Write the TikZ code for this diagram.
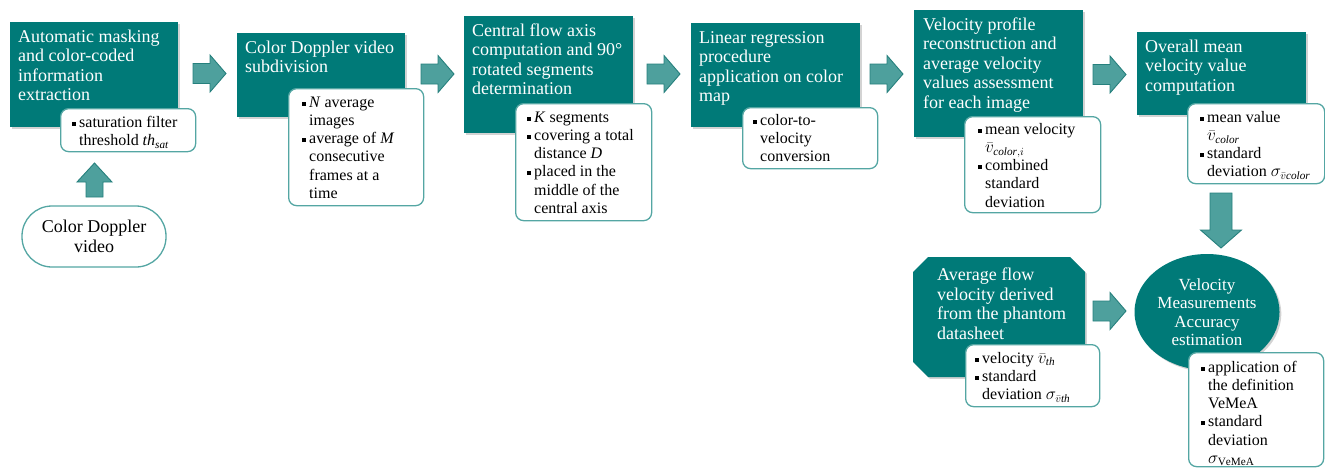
\documentclass[tikz,border=0pt]{standalone}
\usepackage{fontspec}
\setmainfont{Liberation Serif}
\usetikzlibrary{shapes.geometric,shadows}

\definecolor{flowteal}{RGB}{0,122,120}
\definecolor{arrowfill}{RGB}{78,160,157}
\definecolor{arrowline}{RGB}{38,128,125}
\definecolor{subline}{RGB}{84,166,163}

% bullet square and hanging indent for the detail lists
\newcommand\bul{\makebox[7pt][l]{\rule[0.22ex]{4pt}{4pt}}}
\newcommand\ind{\hspace*{7pt}}

% right-pointing block arrow: left x, centre y
\newcommand\rightblock[2]{\draw[barrow] (#1,#2-10) -- (#1+17,#2-10) -- (#1+17,#2-18.5)
  -- (#1+33,#2) -- (#1+17,#2+18.5) -- (#1+17,#2+10) -- (#1,#2+10) -- cycle;}

\tikzset{
  stepshadow/.style={drop shadow={shadow xshift=1.8pt, shadow yshift=-1.8pt, opacity=.35}},
  stepbox/.style={fill=flowteal, inner sep=0pt, anchor=north west, stepshadow},
  maintext/.style={text=white, font=\fontsize{18}{19.5}\selectfont, align=left,
    inner sep=0pt, anchor=north west},
  detailbox/.style={fill=white, draw=subline, line width=1.3pt, rounded corners=8pt,
    inner sep=0pt, anchor=north west},
  detailtext/.style={font=\fontsize{16}{18.2}\selectfont, align=left,
    inner sep=0pt, anchor=north west},
  barrow/.style={fill=arrowfill, draw=arrowline, line width=0.9pt, line join=miter},
}

\begin{document}
\begin{tikzpicture}[x=1pt, y=-1pt]
\useasboundingbox (0,0) rectangle (1325,467);

% ---------- process steps ----------
\node[stepbox, minimum width=168pt, minimum height=105pt] (b1) at (10,22) {};
\node[stepbox, minimum width=168pt, minimum height=84pt]  (b2) at (237,33) {};
\node[stepbox, minimum width=169pt, minimum height=117pt] (b3) at (464,16) {};
\node[stepbox, minimum width=169pt, minimum height=104pt] (b4) at (691,23) {};
\node[stepbox, minimum width=169pt, minimum height=127pt] (b5) at (914,10) {};
\node[stepbox, minimum width=169pt, minimum height=83pt]  (b6) at (1137,32) {};
% octagonal reference-value box
\fill[flowteal, stepshadow] (928,257) -- (1070,257) -- (1085,272) -- (1085,362)
  -- (1070,377) -- (928,377) -- (913,362) -- (913,272) -- cycle;
\node[ellipse, fill=flowteal, inner sep=0pt, minimum width=145pt, minimum height=116pt,
  stepshadow] (acc) at (1207,312) {};

% ---------- input video ----------
\node[draw=subline, line width=1.3pt, rounded corners=30pt, fill=white,
  minimum width=144pt, minimum height=61pt, inner sep=0pt, align=center,
  font=\fontsize{18}{19.5}\selectfont] (video) at (94,236.5) {Color Doppler\\video};

% ---------- step titles (first baseline 20pt below the box top) ----------
\node[maintext] (t1) at (18,28.35) {\strut Automatic masking\\and color-coded\\information\\extraction};
\node[maintext] (t2) at (245,39.35) {\strut Color Doppler video\\subdivision};
\node[maintext] (t3) at (472,22.35) {\strut Central flow axis\\computation and 90°\\rotated segments\\determination};
\node[maintext] (t4) at (699,29.35) {\strut Linear regression\\procedure\\application on color\\map};
\node[maintext] (t5) at (923,16.35) {\strut Velocity profile\\reconstruction and\\average velocity\\values assessment\\for each image};
\node[maintext] (t6) at (1145,38.35) {\strut Overall mean\\velocity value\\computation};
\node[maintext] (t7) at (937,267) {\strut Average flow\\velocity derived\\from the phantom\\datasheet};
\node[text=white, font=\fontsize{17}{18.5}\selectfont, align=center, inner sep=0pt]
  (t8) at (acc) {Velocity\\Measurements\\Accuracy\\estimation};

% ---------- detail boxes ----------
\node[detailbox, minimum width=135pt, minimum height=43pt]  (s1) at (60,108) {};
\node[detailbox, minimum width=135pt, minimum height=117pt] (s2) at (288,88) {};
\node[detailbox, minimum width=136pt, minimum height=117pt] (s3) at (515,103) {};
\node[detailbox, minimum width=135pt, minimum height=61pt]  (s4) at (742,107) {};
\node[detailbox, minimum width=136pt, minimum height=96pt]  (s5) at (964,116) {};
\node[detailbox, minimum width=137pt, minimum height=80pt]  (s6) at (1187,103) {};
\node[detailbox, minimum width=134pt, minimum height=62pt]  (s7) at (965,344) {};
\node[detailbox, minimum width=135pt, minimum height=114pt] (s8) at (1188,352) {};

\node[detailtext] (d1) at (72,114.3) {\strut\bul saturation filter\\\ind threshold \textit{th}\textsubscript{\textit{sat}}};
\node[detailtext] (d2) at (302,94.3) {\strut\bul\textit{N} average\\\ind images\\\bul average of \textit{M}\\\ind consecutive\\\ind frames at a\\\ind time};
\node[detailtext] (d3) at (527,109.3) {\strut\bul\textit{K} segments\\\bul covering a total\\\ind distance \textit{D}\\\bul placed in the\\\ind middle of the\\\ind central axis};
\node[detailtext] (d4) at (753,112.3) {\strut\bul color-to-\\\ind velocity\\\ind conversion};
\node[detailtext] (d5) at (978,121.3) {\strut\bul mean velocity\\\ind $\bar{v}_{\mathit{color},i}$\\\bul combined\\\ind standard\\\ind deviation};
\node[detailtext] (d6) at (1200,109.3) {\strut\bul mean value\\\ind $\bar{v}_{\mathit{color}}$\\\bul standard\\\ind deviation $\sigma_{\bar{v}\mathit{color}}$};
\node[detailtext] (d7) at (975,350.3) {\strut\bul velocity $\bar{v}_{\mathit{th}}$\\\bul standard\\\ind deviation $\sigma_{\bar{v}\mathit{th}}$};
\node[detailtext] (d8) at (1201,359.3) {\strut\bul application of\\\ind the definition\\\ind VeMeA\\\bul standard\\\ind deviation\\\ind $\sigma_{\mathrm{VeMeA}}$};

% ---------- block arrows between steps ----------
\rightblock{193}{73.5}
\rightblock{421}{74}
\rightblock{647}{74}
\rightblock{870}{74}
\rightblock{1093}{74.5}
\rightblock{1093}{311}
% video -> first step (upward)
\draw[barrow] (86,197) -- (86,182) -- (77,182) -- (94.5,163) -- (112,182) -- (103,182) -- (103,197) -- cycle;
% overall mean -> accuracy estimation (downward)
\draw[barrow] (1210,193) -- (1232,193) -- (1232,230) -- (1241.5,230) -- (1221,248) -- (1200.5,230) -- (1210,230) -- cycle;
\end{tikzpicture}
\end{document}
